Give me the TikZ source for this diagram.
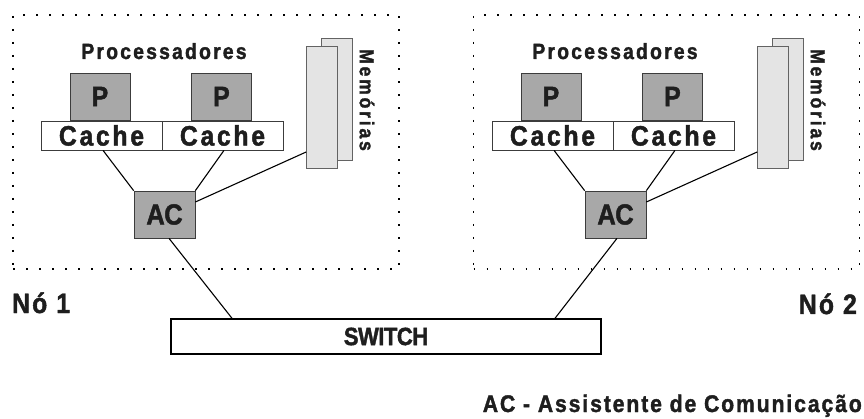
\documentclass[tikz,border=0pt]{standalone}
\usepackage{fontspec}
\setmainfont{Liberation Sans}
% a slightly narrowed, heavy sans for all labels
\newfontfamily\narrowsans[FakeStretch=0.88, FakeBold=1.6]{Liberation Sans Bold}
\definecolor{procgray}{RGB}{168,168,168}
\definecolor{memgray}{RGB}{228,228,228}
\definecolor{edgegray}{RGB}{60,60,60}
\definecolor{inkgray}{RGB}{30,30,30}
\newcommand{\labelfont}[2]{\narrowsans\fontsize{#1}{#1}\selectfont\addfontfeature{LetterSpace=#2}}
\begin{document}
\begin{tikzpicture}[x=1pt,y=-1pt,
  every node/.style={text=inkgray},
  box/.style={draw=edgegray, line width=0.7pt, inner sep=0pt},
  procbox/.style={box, fill=procgray, minimum width=60pt, minimum height=47pt,
    font=\labelfont{28}{0}},
  acbox/.style={box, fill=procgray, minimum width=61pt, minimum height=47pt,
    font=\labelfont{29}{-2}},
  cachebox/.style={box, fill=white, minimum width=121pt, minimum height=29pt,
    font=\labelfont{28}{10}},
  membox/.style={draw=edgegray!80, line width=0.7pt, fill=memgray,
    minimum width=31pt, minimum height=122pt, inner sep=0pt},
  nodearea/.style={draw, line width=1.8pt, dash pattern=on 1.8pt off 11.2pt,
    minimum width=386pt, minimum height=254pt, inner sep=0pt},
  link/.style={line width=1.1pt},
  caption/.style={font=\labelfont{28}{8}, inner sep=0pt, anchor=base west}
]
\useasboundingbox (0,0) rectangle (864,419);

% the two nodes of the machine
\foreach \i/\dx/\bx in {1/0/0, 2/451/460.5}{
  \node[nodearea] (area\i) at (206+\bx, 142) {};
  \begin{scope}[xshift=\dx pt]
    \node[font=\labelfont{22}{10}, inner sep=0pt, anchor=base] (proc\i) at (164,59) {Processadores};
    \node[procbox] (pa\i) at (100,96.5) {P};
    \node[procbox] (pb\i) at (221.5,96.5) {P};
    \node[cachebox] (ca\i) at (101.5,135.5) {Cache};
    \node[cachebox] (cb\i) at (222.5,135.5) {Cache};
    \node[acbox] (ac\i) at (164.5,214.5) {AC};
    \node[membox] (mb\i) at (336.5,99) {};
    \node[membox] (mf\i) at (322,107.5) {};
    \node[rotate=-90, inner sep=0pt, font=\labelfont{20}{14}] (mem\i) at (367,100) {Memórias};
  \end{scope}
  \draw[link] ([xshift=1.5pt]ca\i.south) -- (ac\i.north west);
  \draw[link] ([xshift=1.5pt]cb\i.south) -- (ac\i.north east);
  \draw[link] ([yshift=-44.5pt]mf\i.west) -- ([yshift=12.5pt]ac\i.east);
}

% interconnection switch
\node[draw, line width=1.4pt, minimum width=430pt, minimum height=35pt, inner sep=0pt,
  font=\labelfont{25}{-2}] (sw) at (386,336.5) {SWITCH};
\draw[link] ([xshift=4.5pt]ac1.south) -- ([xshift=-154pt]sw.north);
\draw[link] ([xshift=1.5pt]ac2.south) -- ([xshift=169pt]sw.north);

% labels
\node[caption] (n1) at (12,313) {Nó 1};
\node[caption, anchor=base east] (n2) at (857,314) {Nó 2};
\node[font=\labelfont{24}{8}, inner sep=0pt, anchor=base east] (legend) at (862,412)
  {AC - Assistente de Comunicação};
\end{tikzpicture}
\end{document}
